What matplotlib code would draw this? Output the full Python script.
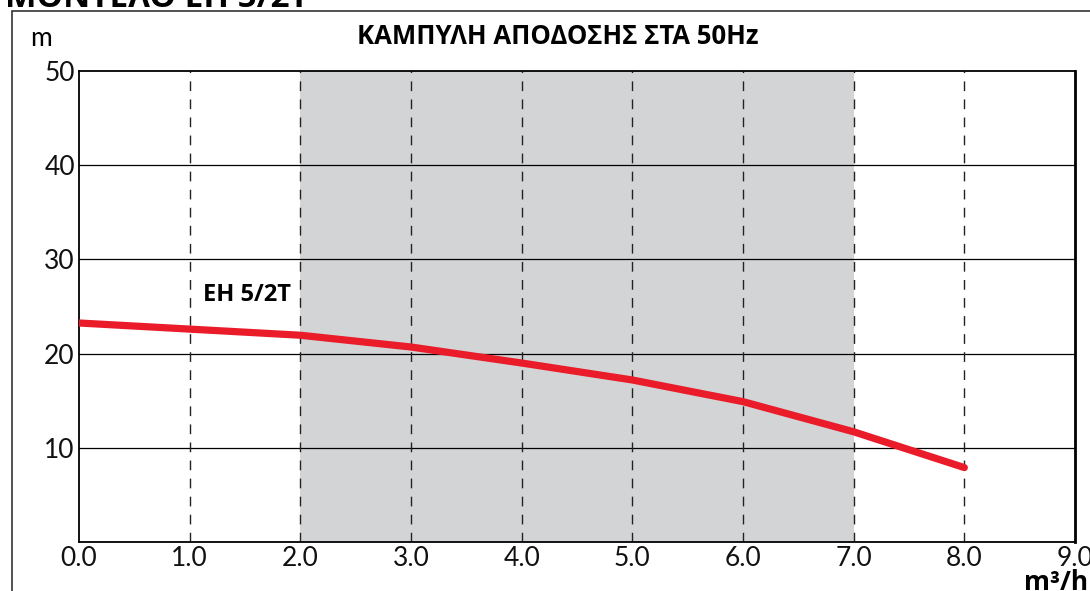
import matplotlib

matplotlib.use("Agg")

import matplotlib.pyplot as plt
from matplotlib.patches import Rectangle

# pump curve EH 5/2T
flow = [0.0, 1.0, 2.0, 3.0, 4.0, 5.0, 6.0, 7.0, 8.0]
head = [23.25, 22.6, 21.95, 20.7, 19.0, 17.2, 14.9, 11.7, 7.9]

x_ticks = [0, 1, 2, 3, 4, 5, 6, 7, 8, 9]
x_labels = ["0.0", "1.0", "2.0", "3.0", "4.0", "5.0", "6.0", "7.0", "8.0", "9.0"]
y_ticks = [10, 20, 30, 40, 50]
band = (2.0, 7.0)

TITLE = "ΚΑΜΠΥΛΗ ΑΠΟΔΟΣΗΣ ΣΤΑ 50Hz"
MODEL = "ΜΟΝΤΕΛΟ ΕΗ 5/2Τ"
CURVE_LABEL = "EH 5/2T"

RED = "#ea1c2a"
GREY = "#d3d4d6"
FONT = ["Lato", "DejaVu Sans"]
BOLD = ["Open Sans", "DejaVu Sans"]

fig = plt.figure(figsize=(10.9, 5.91), dpi=100)
ax = fig.add_axes([79 / 1090, 49 / 591, 996 / 1090, 471 / 591])

ax.set_xlim(0, 9)
ax.set_ylim(0, 50)
ax.axvspan(*band, color=GREY, zorder=0, lw=0)

for y in y_ticks[:-1]:
    ax.axhline(y, color="black", lw=0.9, zorder=1)
for x in x_ticks[1:-1]:
    ax.axvline(x, color="#222222", lw=1.0, ls=(0, (7, 6)), zorder=1)

ax.plot(flow, head, color=RED, lw=5.2, solid_capstyle="round", solid_joinstyle="round", zorder=3)

ax.set_xticks(x_ticks)
ax.set_xticklabels(x_labels)
ax.set_yticks(y_ticks)
ax.tick_params(length=0, pad=3, labelsize=19)
for lab in ax.get_xticklabels() + ax.get_yticklabels():
    lab.set_family(FONT)
    lab.set_color("#111111")
for s in ax.spines.values():
    s.set_linewidth(1.3)
ax.spines["right"].set_linewidth(2.0)

ax.text(1.12, 26.2, CURVE_LABEL, fontsize=17, fontweight="bold", family=BOLD, va="center", ha="left", zorder=4)

fig.text(558 / 1090, 1 - 37 / 591, TITLE, fontsize=18.5, fontweight="bold", family=BOLD, ha="center", va="center")
fig.text(30 / 1090, 1 - 38 / 591, "m", fontsize=19, family=FONT, ha="left", va="center")
fig.text(1088 / 1090, 1 - 583 / 591, "m³/h", fontsize=19, fontweight="bold", family=BOLD, ha="right", va="center")
fig.text(5 / 1090, 1 - 7 / 591, MODEL, fontsize=24, fontweight="bold", family=BOLD, ha="left", va="baseline")

fig.patches.append(Rectangle((12 / 1090, -0.1), 1.2, 1.1 - 11 / 591, transform=fig.transFigure,
                             fill=False, lw=1.2, ec="#333333"))

fig.savefig("out.png", dpi=100)
